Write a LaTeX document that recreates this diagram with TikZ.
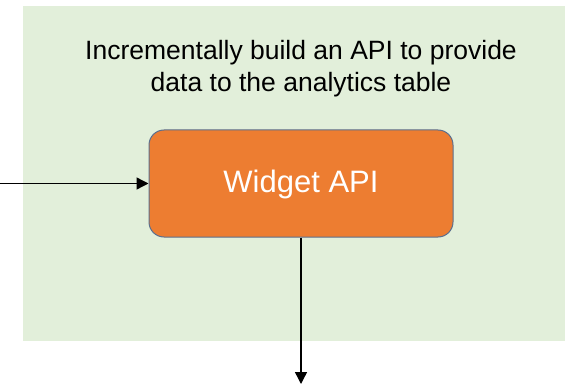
\documentclass[tikz,border=0pt]{standalone}
\usepackage{fontspec}
\setmainfont{Liberation Sans}
\usetikzlibrary{arrows.meta}
\definecolor{panelgreen}{HTML}{E2EFDA}
\definecolor{apiorange}{HTML}{ED7D31}
\definecolor{apiedge}{HTML}{5B6F8E}
\tikzset{
  x=1pt, y=-1pt,
  panel/.style={fill=panelgreen, draw=none},
  apibox/.style={draw=apiedge, line width=1pt, fill=apiorange, rounded corners=15pt,
    minimum width=304pt, minimum height=107pt, inner sep=0pt,
    text height=23pt, text depth=4pt,
    text=white, font=\fontsize{31}{36}\selectfont},
  caption/.style={align=center, font=\fontsize{26.5}{32}\selectfont, text=black},
  flow/.style={draw=black, line width=1.4pt, -{Triangle[length=12pt,width=12pt]}}
}
\begin{document}
\begin{tikzpicture}
\useasboundingbox (0,0) rectangle (565,385);
% light green panel behind the API step
\fill[panel] (23,6) rectangle (565,341);
\node[caption] (cap) at (301,69) {Incrementally build an API to provide\\data to the analytics table};
\node[apibox] (api) at (301,183.5) {Widget API};
\coordinate (src) at (0,183.5);
\coordinate (dst) at (301,384);
\draw[flow] (src) -- (api.west);
\draw[flow] (api.south) -- (dst);
\end{tikzpicture}
\end{document}
